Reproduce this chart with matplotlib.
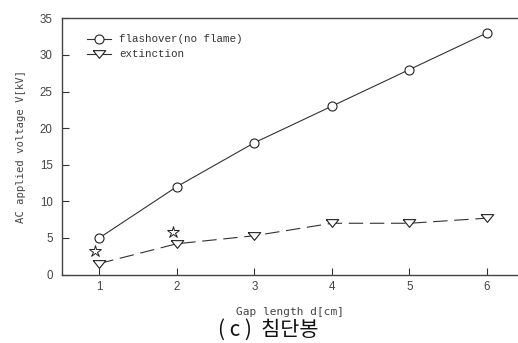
import matplotlib
matplotlib.use("Agg")
import matplotlib.pyplot as plt

gap_cm = [1, 2, 3, 4, 5, 6]
flashover_kv = [5.0, 12.0, 18.0, 23.0, 28.0, 33.0]
extinction_kv = [1.5, 4.2, 5.3, 7.0, 7.0, 7.7]
star_gap = [0.95, 1.95]
star_kv = [3.2, 5.8]
x_ticks = [1, 2, 3, 4, 5, 6]
y_ticks = [0, 5, 10, 15, 20, 25, 30, 35]

fig = plt.figure(figsize=(5.18, 3.43), dpi=100)
ax = fig.add_axes([0.1191, 0.1997, 0.8809, 0.7469])

# flattened open down-triangle
tri = [(-1, 0.62), (1, 0.62), (0, -0.62), (-1, 0.62)]

line_col = "#333333"
ax.plot(gap_cm, flashover_kv, color=line_col, lw=0.8, marker="o", ms=6.5,
        mfc="white", mec="#222222", mew=0.8, label="flashover(no flame)")
ax.plot(gap_cm, extinction_kv, color=line_col, lw=0.8, dashes=(13, 6),
        marker=tri, ms=9, mfc="white", mec="#222222", mew=0.8,
        label="extinction")
ax.plot(star_gap, star_kv, ls="none", marker="*", ms=9, mfc="white",
        mec="#222222", mew=0.7)

ax.set_xlim(0.515, 6.4)
ax.set_ylim(0, 35)
ax.set_xticks(x_ticks)
ax.set_yticks(y_ticks)
ax.tick_params(direction="in", length=5, width=0.8, color="#333333",
               labelsize=8.3, labelcolor="#444444")
ax.tick_params(axis="y", pad=6.5)
ax.tick_params(axis="x", pad=5)
for lbl in ax.get_xticklabels() + ax.get_yticklabels():
    lbl.set_family("Liberation Sans")
ax.spines["right"].set_visible(False)
for s in ("left", "top", "bottom"):
    ax.spines[s].set_color("#444444")
    ax.spines[s].set_linewidth(1.0)

ax.set_xlabel("Gap length d[cm]", family="DejaVu Sans Mono", fontsize=8.0,
              color="#444444", labelpad=10)
ax.set_ylabel("AC applied voltage V[kV]", family="DejaVu Sans Mono",
              fontsize=7.6, color="#444444", labelpad=10)

leg = ax.legend(loc="upper left", bbox_to_anchor=(0.035, 0.975), frameon=False,
                prop={"family": "Liberation Mono", "size": 7.8},
                handlelength=2.2, handletextpad=0.7, labelspacing=0.45)
for t in leg.get_texts():
    t.set_color("#333333")
# the legend keys show short solid strokes for both series
for handle in leg.get_lines():
    handle.set_linestyle("-")

fig.text(0.518, 1 - 330 / 343, "( c )  침단봉", ha="center", va="center",
         family=["Noto Sans CJK KR", "DejaVu Sans"], fontsize=15,
         color="#111111")

fig.savefig("out.png", dpi=100)
